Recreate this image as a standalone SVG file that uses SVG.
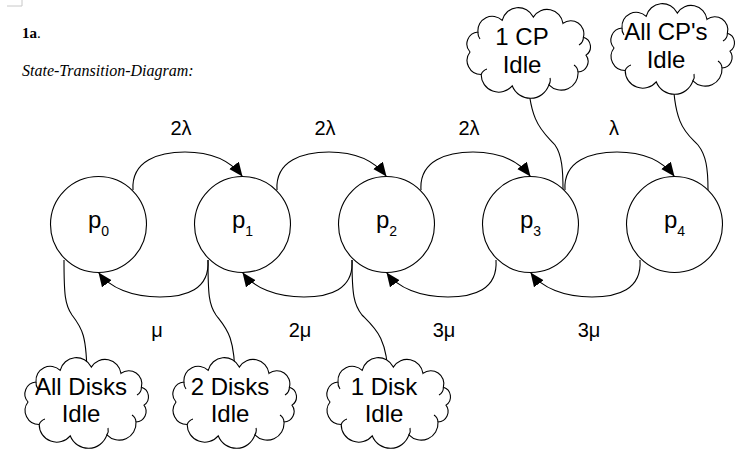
<svg xmlns="http://www.w3.org/2000/svg" xmlns:xlink="http://www.w3.org/1999/xlink" width="745" height="455" viewBox="0 0 745 455">
<style>
  .bg { fill: #ffffff; }
  .state { fill: #ffffff; stroke: #000000; stroke-width: 1.1; }
  .cloud { fill: #ffffff; stroke: #000000; stroke-width: 1.1; }
  .fold { fill: none; stroke: #000000; stroke-width: 1.1; }
  .edge { fill: none; stroke: #000000; stroke-width: 1.1; }
  .note { fill: none; stroke: #000000; stroke-width: 1.1; }
  .lbl { font-family: "Liberation Sans", Arial, sans-serif; font-size: 20px; fill: #000000; text-anchor: middle; }
  .slbl { font-family: "Liberation Sans", Arial, sans-serif; font-size: 24px; fill: #000000; text-anchor: middle; }
  .clbl { font-family: "Liberation Sans", Arial, sans-serif; font-size: 24px; fill: #000000; text-anchor: middle; }
  .sub { font-size: 14px; }
</style>
<defs>
  <marker id="ah" markerUnits="userSpaceOnUse" markerWidth="16" markerHeight="14" refX="14" refY="6" orient="auto">
    <path d="M0,0 L14,6 L0,12 z" fill="#000000"/>
  </marker>
  <g id="cloudShape">
    <path class="cloud" d="M-58,0 A12,12 0 0 1 -50,-20 A14.3,14.3 0 0 1 -25.8,-31.7 A16.6,16.6 0 0 1 5.3,-34.9 A16.1,16.1 0 0 1 35,-28.6 A13,13 0 0 1 55.4,-14.8 A10,10 0 0 1 58,3.1 A10.6,10.6 0 0 1 50,20 A16.9,16.9 0 0 1 20.9,32.9 A19.5,19.5 0 0 1 -15.8,33.8 A17.5,17.5 0 0 1 -46.8,22.5 A14,14 0 0 1 -58,0 Z"/>
    <path class="fold" d="M-50,-20 A10,10 0 0 0 -48,-13 M55.4,-14.8 A9,9 0 0 1 51,-7 M50,20 A9,9 0 0 0 46,13 M20.9,32.9 A9,9 0 0 0 22,26 M-46.8,22.5 A9,9 0 0 1 -41,17"/>
  </g>
</defs>
<rect class="bg" x="0" y="0" width="745" height="455"/>
<polyline points="7,6 22,6 22,0" fill="none" stroke="#c8c8c8" stroke-width="1"/>
<text x="22" y="38" font-family="'Liberation Serif', 'Times New Roman', serif" font-size="15" font-weight="bold">1a<tspan font-weight="normal">.</tspan></text>
<text x="22" y="76" font-family="'Liberation Serif', 'Times New Roman', serif" font-size="16" font-style="italic">State-Transition-Diagram:</text>

<g id="connectors">
  <path class="edge" marker-end="url(#ah)" d="M133,190 C131,160 160,152 185,152 C210,152 230,160 242.5,176.5"/>
  <path class="edge" marker-end="url(#ah)" d="M277,190 C275,160 304,152 329,152 C354,152 374,160 386.5,176.5"/>
  <path class="edge" marker-end="url(#ah)" d="M421,190 C419,160 448,152 473,152 C498,152 518,160 530.5,176.5"/>
  <path class="edge" marker-end="url(#ah)" d="M565,190 C563,160 592,152 617,152 C642,152 662,160 674.5,176.5"/>
  <path class="edge" marker-end="url(#ah)" d="M208,260 C210,290 185,297 160,297 C132,297 110,288 98.5,272.5"/>
  <path class="edge" marker-end="url(#ah)" d="M352,260 C354,290 329,297 304,297 C276,297 254,288 242.5,272.5"/>
  <path class="edge" marker-end="url(#ah)" d="M496,260 C498,290 473,297 448,297 C420,297 398,288 386.5,272.5"/>
  <path class="edge" marker-end="url(#ah)" d="M640,260 C642,290 617,297 592,297 C564,297 542,288 530.5,272.5"/>
  <path class="note" d="M64,260 C64,295 65,305 72,315 C82,328 87,335 87,380"/>
  <path class="note" d="M208,260 C208,295 209,305 216,315 C226,328 235,335 235,380"/>
  <path class="note" d="M352,260 C352,295 354,305 362,315 C375,328 388,338 388,380"/>
  <path class="note" d="M563,190 C563,170 562,155 555,145 C545,133 528,125 528,70"/>
  <path class="note" d="M708,190 C708,168 706,155 698,145 C688,134 673,128 673,70"/>
</g>

<g id="p0"><circle class="state" cx="98.5" cy="224.5" r="48"/><text class="slbl" x="98.5" y="228">p<tspan class="sub" dy="8">0</tspan></text></g>
<g id="p1"><circle class="state" cx="242.5" cy="224.5" r="48"/><text class="slbl" x="242.5" y="228">p<tspan class="sub" dy="8">1</tspan></text></g>
<g id="p2"><circle class="state" cx="386.5" cy="224.5" r="48"/><text class="slbl" x="386.5" y="228">p<tspan class="sub" dy="8">2</tspan></text></g>
<g id="p3"><circle class="state" cx="530.5" cy="224.5" r="48"/><text class="slbl" x="530.5" y="228">p<tspan class="sub" dy="8">3</tspan></text></g>
<g id="p4"><circle class="state" cx="674.5" cy="224.5" r="48"/><text class="slbl" x="674.5" y="228">p<tspan class="sub" dy="8">4</tspan></text></g>

<g id="labels">
  <text class="lbl" x="181" y="135">2λ</text>
  <text class="lbl" x="325" y="135">2λ</text>
  <text class="lbl" x="469" y="135">2λ</text>
  <text class="lbl" x="614" y="135">λ</text>
  <text class="lbl" x="157" y="337">μ</text>
  <text class="lbl" x="300" y="337">2μ</text>
  <text class="lbl" x="444" y="337">3μ</text>
  <text class="lbl" x="589" y="337">3μ</text>
</g>

<g id="cloud-all-disks"><use xlink:href="#cloudShape" href="#cloudShape" transform="translate(86,402)"/><text class="clbl" x="81" y="395">All Disks</text><text class="clbl" x="81" y="422">Idle</text></g>
<g id="cloud-2-disks"><use xlink:href="#cloudShape" href="#cloudShape" transform="translate(234,402)"/><text class="clbl" x="230" y="395">2 Disks</text><text class="clbl" x="230" y="422">Idle</text></g>
<g id="cloud-1-disk"><use xlink:href="#cloudShape" href="#cloudShape" transform="translate(388,402)"/><text class="clbl" x="384" y="395">1 Disk</text><text class="clbl" x="384" y="422">Idle</text></g>
<g id="cloud-1-cp"><use xlink:href="#cloudShape" href="#cloudShape" transform="translate(528,52)"/><text class="clbl" x="522" y="45">1 CP</text><text class="clbl" x="522" y="73">Idle</text></g>
<g id="cloud-all-cps"><use xlink:href="#cloudShape" href="#cloudShape" transform="translate(672,48)"/><text class="clbl" x="666" y="40">All CP's</text><text class="clbl" x="666" y="68">Idle</text></g>
</svg>
